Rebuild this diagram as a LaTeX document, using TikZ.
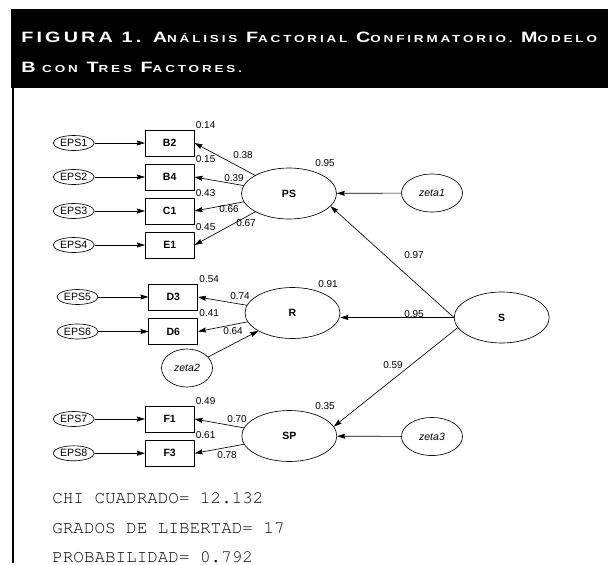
\documentclass[tikz,border=0pt]{standalone}
\usepackage{fontspec}
\setmainfont{Liberation Sans}
\setmonofont{Liberation Mono}
\newfontfamily\headfont[FakeStretch=1.32,LetterSpace=21]{Liberation Sans}
\newfontfamily\headsmall[FakeStretch=1.32,LetterSpace=28]{Liberation Sans}
\usetikzlibrary{arrows.meta,shapes.geometric}
\newcommand\hsc[1]{{\headsmall\bfseries\fontsize{10.2}{12}\selectfont #1}}
\newcommand\statfont{\fontencoding{T1}\fontfamily{pcr}\fontsize{17.6}{20}\selectfont}

\begin{document}
\begin{tikzpicture}[x=1pt,y=-1pt,>={Stealth[length=8pt,width=5pt,inset=1pt]},line width=0.65pt,
  font=\fontsize{10}{12}\selectfont,
  obs/.style={draw,rectangle,minimum width=49pt,minimum height=26pt,inner sep=0pt,font=\fontsize{10.5}{12}\selectfont\bfseries},
  err/.style={draw,ellipse,minimum width=41pt,minimum height=15pt,inner sep=0pt,font=\fontsize{10.6}{12}\selectfont},
  lat/.style={draw,ellipse,minimum width=95pt,minimum height=51pt,inner sep=0pt,font=\fontsize{10.5}{12}\selectfont\bfseries},
  dist/.style={draw,ellipse,minimum width=61pt,minimum height=38pt,inner sep=0pt,font=\fontsize{10.5}{12}\selectfont\itshape},
  rsq/.style={anchor=south west,inner sep=1pt},
  coef/.style={anchor=west,inner sep=0pt},
  head/.style={anchor=base west,inner sep=0pt,text=white,font=\headfont\bfseries\fontsize{15}{18}\selectfont},
  stat/.style={anchor=base west,inner sep=0pt,font=\statfont}]
\useasboundingbox (0,0) rectangle (608,565);
% heading
\fill[black] (11,9) rectangle (608,87.7);
\draw[line width=2pt] (13,87.7) -- (13,563);
\node[head] (title1) at (21,42.5)
  {FIGURA 1. A\hsc{NÁLISIS} F\hsc{ACTORIAL} C\hsc{ONFIRMATORIO.} M\hsc{ODELO}};
\node[head] (title2) at (21,72.7)
  {B\hsc{ CON} T\hsc{RES} F\hsc{ACTORES.}};

% latent factors
\node[lat] (PS) at (289,193.5) {PS};
\node[lat] (R) at (292.5,313) {R};
\node[lat] (SP) at (289.3,436) {SP};
\node[lat] (S) at (501.7,317.5) {S};
\node[dist] (zeta1) at (432,193) {zeta1};
\node[dist,minimum width=51pt] (zeta2) at (187,368) {zeta2};
\node[dist] (zeta3) at (432,436.5) {zeta3};

% indicators
\node[obs] (B2) at (169.7,143) {B2};
\node[obs] (B4) at (169.7,177) {B4};
\node[obs] (C1) at (169.7,211) {C1};
\node[obs] (E1) at (169.7,245) {E1};
\node[obs] (D3) at (173.3,297) {D3};
\node[obs] (D6) at (173.3,331.5) {D6};
\node[obs] (F1) at (169.7,419) {F1};
\node[obs] (F3) at (169.7,453.3) {F3};

\node[err] (eps1) at (73.7,143) {EPS1};
\node[err] (eps2) at (73.7,177) {EPS2};
\node[err] (eps3) at (73.7,211) {EPS3};
\node[err] (eps4) at (73.7,245) {EPS4};
\node[err] (eps5) at (77.5,297) {EPS5};
\node[err] (eps6) at (77.5,331.5) {EPS6};
\node[err] (eps7) at (73.7,419) {EPS7};
\node[err] (eps8) at (73.7,453.3) {EPS8};

% error terms
\draw[->] (eps1) -- (B2);
\draw[->] (eps2) -- (B4);
\draw[->] (eps3) -- (C1);
\draw[->] (eps4) -- (E1);
\draw[->] (eps5) -- (D3);
\draw[->] (eps6) -- (D6);
\draw[->] (eps7) -- (F1);
\draw[->] (eps8) -- (F3);

% loadings
\draw[->] (PS) -- (B2.east);
\draw[->] (PS) -- (B4.east);
\draw[->] (PS) -- (C1.east);
\draw[->] (PS) -- (E1.east);
\draw[->] (R) -- (D3.east);
\draw[->] (R) -- (D6.east);
\draw[->] (SP) -- (F1.east);
\draw[->] (SP) -- (F3.east);

% structural paths
\draw[->] (zeta1) -- (PS);
\draw[->] (zeta2) -- (R);
\draw[->] (zeta3) -- (SP);
\draw[->] (S.west) -- (PS.-17);
\draw[->] (S.west) -- (S.west -| R.east);
\draw[->] (S.193) -- (SP.12);

% squared multiple correlations
\node[rsq] (rB2) at (B2.north east) {0.14};
\node[rsq] (rB4) at (B4.north east) {0.15};
\node[rsq] (rC1) at (C1.north east) {0.43};
\node[rsq] (rE1) at (E1.north east) {0.45};
\node[rsq] (rD3) at (D3.north east) {0.54};
\node[rsq] (rD6) at (D6.north east) {0.41};
\node[rsq] (rF1) at (F1.north east) {0.49};
\node[rsq] (rF3) at (F3.north east) {0.61};
\node[coef] (rPS) at (315,162.7) {0.95};
\node[coef] (rR) at (318,284) {0.91};
\node[coef] (rSP) at (315,406) {0.35};

% coefficients
\node[coef] (cB2) at (233,155) {0.38};
\node[coef] (cB4) at (224,177.7) {0.39};
\node[coef] (cC1) at (219,209) {0.66};
\node[coef] (cE1) at (236,223) {0.67};
\node[coef] (cD3) at (230,296) {0.74};
\node[coef] (cD6) at (223,330.7) {0.64};
\node[coef] (cF1) at (227,419) {0.70};
\node[coef] (cF3) at (217,455) {0.78};
\node[coef] (cPS) at (404,255) {0.97};
\node[coef] (cR) at (404,314) {0.95};
\node[coef] (cSP) at (383,365) {0.59};

% fit
\node[stat] (chi) at (52,503) {CHI CUADRADO= 12.132};
\node[stat] (gl) at (52,533) {GRADOS DE LIBERTAD= 17};
\node[stat] (prob) at (52,562.7) {PROBABILIDAD= 0.792};
\end{tikzpicture}
\end{document}
